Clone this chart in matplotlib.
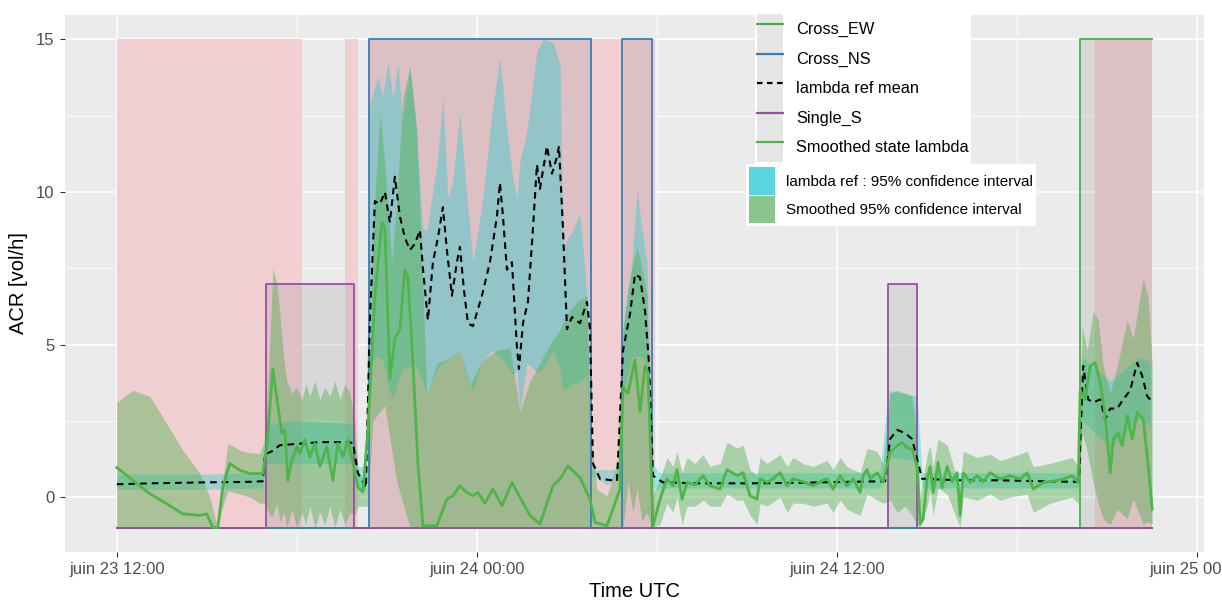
import matplotlib
matplotlib.use('Agg')
import matplotlib.pyplot as plt
from matplotlib.lines import Line2D
from matplotlib.patches import Patch
from matplotlib.ticker import FixedLocator
import pandas as pd

plt.rcParams['font.family'] = ['Liberation Sans', 'DejaVu Sans']

# time origin: juin 23 12:00, all times below are minutes after it
T0 = pd.Timestamp('2024-06-23 12:00')

# lambda ref mean
mean_t = [0, 66, 166, 266, 292, 296, 310, 326, 366, 406, 446, 472, 482, 492, 498, 506, 516, 526, 536, 546,
          556, 566, 576, 586, 596, 606, 612, 622, 632, 642, 652, 660, 670, 680, 686, 694, 702, 712, 730, 746,
          760, 766, 772, 780, 790, 800, 804, 812, 822, 832, 840, 846, 852, 860, 870, 880, 884, 892, 900, 910,
          926, 940, 946, 952, 966, 1000, 1012, 1026, 1036, 1046, 1056, 1064, 1072, 1092, 1166, 1266, 1366, 1466, 1536, 1546,
          1560, 1576, 1590, 1600, 1610, 1686, 1766, 1846, 1922, 1924, 1932, 1942, 1952, 1966, 1976, 1986, 2000, 2012, 2026, 2040,
          2050, 2060, 2066]
mean_v = [0.42, 0.45, 0.48, 0.5, 0.52, 1.4, 1.5, 1.7, 1.75, 1.8, 1.8, 1.78, 0.8, 0.5, 0.3, 5.8, 9.7, 9.6, 10.0, 9.0,
          10.5, 9.2, 8.5, 8.1, 8.3, 8.75, 7.5, 5.8, 7.7, 8.5, 9.5, 8.1, 6.6, 7.7, 8.2, 6.8, 5.7, 5.6, 6.6, 7.7,
          9.2, 10.3, 9.2, 7.45, 7.7, 4.9, 4.2, 5.7, 6.4, 8.8, 10.9, 10.1, 10.7, 11.5, 10.6, 11.15, 11.5, 8.8, 5.5, 5.9,
          5.7, 6.4, 5.5, 1.1, 0.6, 0.53, 4.8, 6.0, 7.3, 7.2, 6.1, 4.4, 0.7, 0.48, 0.45, 0.45, 0.47, 0.5, 0.52, 1.9,
          2.2, 2.1, 1.9, 1.24, 0.6, 0.55, 0.55, 0.52, 0.5, 0.8, 4.3, 3.2, 3.1, 3.2, 2.55, 2.9, 2.9, 3.2, 3.5, 4.4,
          3.97, 3.3, 3.2]

# lambda ref : 95% confidence interval
ref_t = [0, 166, 292, 296, 366, 472, 482, 498, 506, 522, 532, 542, 552, 562, 572, 586, 596, 612, 620, 640,
         652, 662, 672, 686, 700, 712, 732, 750, 766, 780, 792, 800, 806, 820, 840, 852, 872, 886, 892, 912,
         926, 940, 950, 980, 1002, 1012, 1030, 1040, 1050, 1060, 1070, 1086, 1526, 1542, 1576, 1600, 1610, 1922, 1930, 1956,
         1986, 2016, 2046, 2066]
ref_lo = [0.25, 0.25, 0.3, 1.1, 1.1, 1.1, 0.4, 0.2, 4.4, 4.6, 4.5, 3.6, 3.2, 3.8, 4.2, 4.3, 4.4, 3.8, 3.3, 4.2,
          4.4, 4.5, 4.6, 4.8, 3.9, 3.5, 4.5, 4.8, 4.6, 4.3, 4.0, 4.2, 2.8, 4.4, 4.1, 4.2, 4.8, 4.2, 3.5, 3.7,
          3.8, 4.0, 0.7, 0.4, 0.7, 3.3, 4.6, 4.6, 4.6, 4.3, 0.26, 0.3, 0.3, 1.3, 1.25, 1.2, 0.3, 0.3, 2.5, 2.1,
          1.6, 2.1, 2.6, 2.3]
ref_hi = [0.75, 0.75, 0.8, 2.4, 2.5, 2.4, 1.0, 1.0, 12.9, 13.8, 13.1, 14.3, 13.1, 14.2, 12.35, 14.1, 12.6, 8.75, 8.75, 10.9,
          13.1, 9.8, 10.4, 12.6, 9.8, 7.7, 9.8, 12.6, 14.4, 12.0, 10.4, 9.8, 11.0, 12.0, 14.6, 15.0, 14.9, 14.2, 8.2, 8.75,
          9.3, 6.6, 0.9, 0.9, 0.9, 5.5, 7.7, 10.1, 8.75, 7.7, 1.1, 0.8, 0.8, 3.5, 3.4, 3.3, 0.8, 0.8, 4.6, 4.2,
          3.8, 4.2, 4.6, 4.4]

# smoothed state lambda
sm_t = [0, 32, 66, 100, 132, 166, 180, 192, 202, 212, 226, 246, 266, 292, 300, 312, 322, 330, 336, 342,
        350, 360, 366, 376, 386, 396, 406, 420, 432, 442, 452, 462, 472, 482, 492, 502, 516, 530, 536, 546,
        556, 566, 576, 582, 592, 602, 612, 640, 660, 672, 686, 700, 712, 722, 736, 752, 770, 790, 806, 826,
        846, 872, 886, 902, 926, 946, 956, 980, 1006, 1012, 1022, 1036, 1046, 1056, 1062, 1072, 1086, 1100, 1112, 1120,
        1130, 1140, 1156, 1172, 1186, 1206, 1220, 1240, 1252, 1266, 1280, 1286, 1300, 1312, 1326, 1340, 1352, 1372, 1392, 1406,
        1420, 1432, 1446, 1460, 1472, 1486, 1492, 1500, 1506, 1520, 1532, 1546, 1560, 1570, 1580, 1590, 1600, 1606, 1612, 1620,
        1626, 1632, 1642, 1650, 1660, 1670, 1680, 1686, 1692, 1706, 1720, 1732, 1746, 1766, 1786, 1806, 1820, 1832, 1852, 1872,
        1892, 1910, 1922, 1926, 1936, 1946, 1956, 1966, 1976, 1986, 1992, 2002, 2010, 2020, 2030, 2040, 2052, 2062, 2070]
sm_v = [0.97, 0.55, 0.11, -0.22, -0.55, -0.6, -0.55, -1.0, -1.0, 0.33, 1.1, 0.88, 0.77, 0.77, 1.65, 4.2, 3.0, 2.1, 2.2, 0.55,
        1.2, 1.65, 1.43, 1.87, 1.32, 1.76, 1.0, 1.65, 0.55, 1.76, 1.32, 1.87, 1.1, 0.33, 0.16, 2.2, 6.6, 9.0, 8.8, 3.9,
        5.2, 5.5, 7.45, 7.2, 4.4, 1.1, -0.94, -0.94, -0.07, 0.04, 0.37, 0.15, 0.04, 0.15, -0.2, 0.26, -0.28, 0.48, 0.0, -0.6,
        -0.88, 0.37, 0.59, 1.02, 0.64, -0.07, -0.83, -0.94, 0.26, 3.6, 3.4, 4.5, 2.8, 4.3, 4.1, -0.94, -0.07, 0.6, 0.37, 0.9,
        -0.07, 0.48, 0.4, 0.7, 0.37, 0.26, 0.9, 0.7, 0.8, 0.04, -0.07, 0.6, 0.48, 0.6, 0.8, 0.37, 0.6, 0.5, 0.37, 0.5,
        0.6, 0.26, 0.7, 0.37, 0.6, 0.15, 0.7, 0.9, 0.6, 0.8, 0.48, 1.46, 1.68, 1.79, 1.62, 1.57, 1.0, -0.88, -0.72, 0.59,
        1.0, 0.15, 1.13, 0.3, 1.0, 0.5, 0.8, -0.6, 0.8, 0.48, 0.7, 0.5, 0.8, 0.59, 0.7, 0.59, 0.8, 0.26, 0.48, 0.52,
        0.59, 0.7, 0.48, 3.5, 3.2, 4.3, 4.4, 3.75, 2.66, 0.8, 1.9, 2.1, 1.68, 2.66, 1.9, 2.77, 2.55, 1.02, -0.4]

# smoothed 95% confidence interval
ci_t = [0, 32, 66, 100, 132, 166, 186, 200, 212, 222, 246, 266, 286, 296, 306, 312, 320, 326, 334, 340,
        350, 360, 370, 378, 386, 396, 406, 416, 426, 436, 446, 456, 466, 476, 482, 492, 502, 512, 526, 536,
        550, 560, 572, 586, 600, 610, 620, 640, 660, 686, 706, 732, 760, 786, 806, 826, 846, 866, 886, 900,
        920, 940, 946, 960, 980, 1000, 1012, 1022, 1032, 1040, 1050, 1060, 1070, 1086, 1100, 1112, 1120, 1130, 1140, 1156,
        1172, 1186, 1206, 1220, 1240, 1252, 1266, 1280, 1286, 1300, 1326, 1340, 1352, 1372, 1392, 1420, 1432, 1446, 1460, 1486,
        1500, 1520, 1532, 1546, 1560, 1576, 1590, 1600, 1606, 1620, 1626, 1632, 1642, 1660, 1686, 1692, 1720, 1746, 1766, 1786,
        1820, 1832, 1866, 1910, 1922, 1930, 1940, 1952, 1962, 1972, 1986, 2000, 2020, 2032, 2052, 2062, 2070]
ci_lo = [-1, -1, -1, -1, -1, -1, -1, -1, -0.3, 0.2, 0.1, 0.0, -0.2, -0.2, -0.6, -0.6, -0.2, -0.8, -0.5, -1.0,
         -0.4, -1.0, -0.5, -0.9, -0.3, -1.0, -0.5, -0.9, -0.3, -1.0, -0.4, -0.9, -0.5, -0.6, -0.3, -0.3, -0.3, 2.5, 2.8, 3.0,
         1.5, 0.5, -0.2, -1, -1, -1, -1, -1, -1, -1, -1, -1, -1, -1, -1, -1, -1, -1, -1, -1,
         -1, -1, -1, -1, -1, -1, -1, 0.5, -0.5, 0.3, -0.8, -0.5, -1, -0.9, -0.2, -0.5, 0.0, -0.9, -0.3, -0.3,
         -0.1, -0.3, -0.3, 0.1, -0.1, -0.1, -0.6, -0.9, -0.2, -0.3, 0.0, -0.5, -0.2, -0.2, -0.3, -0.2, -0.5, -0.1, -0.4, -0.6,
         0.1, -0.1, -0.2, -0.1, -0.5, -0.3, -0.6, -0.9, -1.0, -0.3, 0.2, -0.6, 0.3, 0.1, -1.0, 0.0, -0.1, 0.1, -0.1, 0.0,
         0.1, -0.5, -0.2, 0.0, -0.2, 2.1, 1.5, 0.48, -0.2, -0.72, -0.9, -0.4, -0.7, -0.07, -0.88, -0.8, -0.9]
ci_hi = [3.1, 3.5, 3.3, 2.4, 1.54, 0.77, 0.0, -0.9, 0.55, 1.76, 1.54, 1.45, 1.43, 1.87, 5.0, 7.5, 7.0, 6.0, 4.5, 3.8,
         3.4, 3.6, 3.2, 3.7, 3.3, 3.8, 3.2, 3.6, 3.3, 3.8, 3.2, 3.7, 3.4, 2.5, 0.8, 0.6, 1.1, 8.75, 12.6, 10.9,
         7.7, 9.8, 13.1, 14.1, 12.0, 7.7, 3.3, 4.4, 4.5, 4.8, 3.7, 4.5, 4.8, 4.9, 2.8, 3.8, 4.4, 5.0, 5.5, 6.0,
         6.4, 6.6, 2.2, 0.26, 0.04, 1.1, 5.5, 6.8, 7.7, 8.2, 7.5, 6.6, 0.04, 0.6, 1.3, 1.0, 1.5, 0.8, 1.3, 1.1,
         1.4, 1.0, 1.1, 1.8, 1.6, 1.7, 0.9, 0.7, 1.3, 1.1, 1.4, 1.0, 1.3, 1.1, 1.0, 1.2, 0.9, 1.3, 1.0, 0.8,
         1.6, 1.5, 1.1, 3.4, 3.5, 3.4, 3.3, 2.0, 0.0, 1.4, 1.7, 1.0, 1.9, 1.7, 0.3, 1.5, 1.3, 1.4, 1.2, 1.3,
         1.5, 1.0, 1.1, 1.3, 1.0, 5.6, 4.8, 6.1, 5.8, 4.3, 3.4, 4.3, 5.8, 5.2, 7.2, 6.5, 4.3]

# crossing states (step series, -1 = off)
ew_t = [0, 1926, 2070]
ew_v = [-1, 15, 15]
ns_t = [0, 505, 948, 1011, 1069, 2070]
ns_v = [-1, 15, -1, 15, -1, -1]
single_t = [0, 298, 474, 1542, 1600, 2070]
single_v = [-1, 7, -1, 7, -1, -1]

# shaded periods
pink_start = [0, 456, 504, 1956]
pink_end = [370, 482, 1076, 2070]

xtick_labels = ['juin 23 12:00', 'juin 24 00:00', 'juin 24 12:00', 'juin 25 00:00']


def tt(minutes):
    return (T0 + pd.to_timedelta(minutes, unit='min')).to_numpy()


fig = plt.figure(figsize=(12.22, 6.01), dpi=100)
ax = fig.add_axes([65 / 1222, 49 / 601, 1139 / 1222, 537 / 601])
ax.set_facecolor('#EBEBEB')
for s in ax.spines.values():
    s.set_visible(False)

for s, e in zip(pink_start, pink_end):
    ax.fill_between(tt([s, e]), -1, 15, color='#F0CED1', lw=0, zorder=1)

for t, v in [(ew_t, ew_v), (ns_t, ns_v), (single_t, single_v)]:
    ax.fill_between(tt(t), -1, v, step='post', color='#7F7F7F', alpha=0.17, lw=0, zorder=2)

ax.fill_between(tt(ref_t), ref_lo, ref_hi, color='#00CED1', alpha=0.33, lw=0, zorder=3)
ax.fill_between(tt(ci_t), ci_lo, ci_hi, color='#4DAF4A', alpha=0.42, lw=0, zorder=4)

ax.step(tt(ew_t), ew_v, where='post', color='#4DAF4A', lw=1.3, zorder=5)
ax.step(tt(ns_t), ns_v, where='post', color='#377EB8', lw=1.3, zorder=5)
ax.step(tt(single_t), single_v, where='post', color='#984EA3', lw=1.3, zorder=6)

ax.plot(tt(mean_t), mean_v, color='black', lw=1.5, dashes=(3.2, 2.4), zorder=7)
ax.plot(tt(sm_t), sm_v, color='#4DB54A', lw=2.0, zorder=8)

major = tt([0, 720, 1440, 2160])
ax.set_xticks(major)
ax.set_xticklabels(xtick_labels)
ax.xaxis.set_minor_locator(FixedLocator(matplotlib.dates.date2num(tt([360, 1080, 1800]))))
ax.set_xlim(tt([-103.5, 2173.5]))
ax.set_yticks([0, 5, 10, 15])
ax.yaxis.set_minor_locator(FixedLocator([2.5, 7.5, 12.5]))
ax.set_ylim(-1.8, 15.8)

ax.grid(which='major', color='white', lw=1.1, zorder=0)
ax.grid(which='minor', color='white', lw=0.55, zorder=0)
ax.set_axisbelow(True)
ax.tick_params(which='major', length=3.5, width=0.8, color='#333333', labelcolor='#4D4D4D', labelsize=12, pad=4)
ax.tick_params(which='minor', length=0)

ax.set_xlabel('Time UTC', fontsize=14.5, labelpad=3)
ax.set_ylabel('ACR [vol/h]', fontsize=14.5, labelpad=6)

key_bg = Patch(facecolor='#E6E6E6', edgecolor='none')
h1 = [
    (key_bg, Line2D([], [], color='#4DAF4A', lw=1.6)),
    (key_bg, Line2D([], [], color='#377EB8', lw=1.6)),
    (key_bg, Line2D([], [], color='black', lw=1.6, dashes=(2.5, 2))),
    (key_bg, Line2D([], [], color='#984EA3', lw=1.6)),
    (key_bg, Line2D([], [], color='#4DB54A', lw=1.6)),
]
l1 = ['Cross_EW', 'Cross_NS', 'lambda ref mean', 'Single_S', 'Smoothed state lambda']
leg1 = ax.legend(h1, l1, loc='upper left', bbox_to_anchor=(755 / 1222, 1 - 12 / 601),
                 bbox_transform=fig.transFigure, fontsize=11.8, handlelength=1.55, handleheight=2.39,
                 labelspacing=0, handletextpad=0.8, borderpad=0.15, borderaxespad=0,
                 frameon=True, facecolor='white', edgecolor='none', fancybox=False, framealpha=1)
ax.add_artist(leg1)

h2 = [Patch(facecolor='#5AD5DE', edgecolor='none'), Patch(facecolor='#8DC68A', edgecolor='none')]
l2 = ['lambda ref : 95% confidence interval', 'Smoothed 95% confidence interval']
ax.legend(h2, l2, loc='upper left', bbox_to_anchor=(746 / 1222, 1 - 164 / 601),
          bbox_transform=fig.transFigure, fontsize=11, handlelength=1.7, handleheight=2.4,
          labelspacing=0.08, handletextpad=0.7, borderpad=0.2, borderaxespad=0,
          frameon=True, facecolor='white', edgecolor='none', fancybox=False, framealpha=1)

fig.savefig('out.png', dpi=100)
